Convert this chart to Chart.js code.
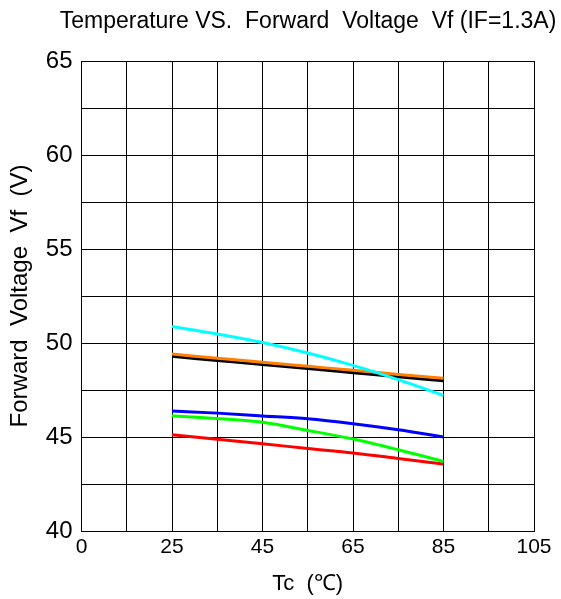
<!DOCTYPE html>
<html>
<head>
<meta charset="utf-8">
<script src="https://cdn.jsdelivr.net/npm/chart.js@4.4.1/dist/chart.umd.min.js"></script>
<style>
  html, body { margin: 0; padding: 0; background: #fff; }
  #wrap { width: 561px; height: 599px; }
</style>
</head>
<body>
<div id="wrap"><canvas id="chart" width="561" height="599"></canvas></div>
<script>
const CHART_TITLE = "Temperature VS.  Forward  Voltage  Vf (IF=1.3A)";
const X_TITLE = "Tc  (\u2103)";
const Y_TITLE = "Forward  Voltage  Vf  (V)";

const tempC = [25, 35, 45, 55, 65, 75, 85];
const cyanVf = [50.88, 50.48, 50.03, 49.47, 48.81, 48.05, 47.21];
const orangeVf = [49.41, 49.19, 48.97, 48.76, 48.55, 48.33, 48.12];
const blackVf = [49.29, 49.07, 48.85, 48.64, 48.42, 48.2, 47.99];
const blueVf = [46.38, 46.27, 46.12, 45.97, 45.71, 45.39, 45.0];
const greenVf = [46.13, 45.98, 45.78, 45.35, 44.89, 44.32, 43.7];
const redVf = [45.12, 44.88, 44.64, 44.39, 44.15, 43.86, 43.56];

const xTickLabels = { 5: "0", 25: "25", 45: "45", 65: "65", 85: "85", 105: "105" };
const yTickLabels = { 40: "40", 45: "45", 50: "50", 55: "55", 60: "60", 65: "65" };

const FONT = "\"Liberation Sans\", Arial, sans-serif";

function series(values, color) {
  return {
    data: tempC.map((t, i) => ({ x: t, y: values[i] })),
    borderColor: color,
    backgroundColor: color,
    borderWidth: 3,
    pointRadius: 0,
    cubicInterpolationMode: "monotone",
    fill: false
  };
}

// title sits off-centre in the reference, so draw it by hand
const titlePlugin = {
  id: "topTitle",
  afterDraw(chart) {
    const ctx = chart.ctx;
    ctx.save();
    ctx.fillStyle = "#000";
    ctx.font = "23px " + FONT;
    ctx.textAlign = "center";
    ctx.textBaseline = "middle";
    ctx.fillText(CHART_TITLE, 308, 22);
    ctx.restore();
  }
};

new Chart(document.getElementById("chart"), {
  type: "line",
  data: {
    datasets: [
      series(cyanVf, "#00ffff"),
      series(orangeVf, "#ff8000"),
      series(blackVf, "#000000"),
      series(blueVf, "#0000ff"),
      series(greenVf, "#00ff00"),
      series(redVf, "#ff0000")
    ]
  },
  options: {
    responsive: false,
    animation: false,
    layout: { padding: { top: 61, left: 0, right: 27, bottom: 0 } },
    plugins: {
      legend: { display: false },
      tooltip: { enabled: false },
      title: { display: false }
    },
    scales: {
      x: {
        type: "linear",
        min: 5,
        max: 105,
        afterFit(scale) { scale.height = 68; },
        border: { color: "#000", width: 1 },
        grid: { color: "#000", lineWidth: 1, drawTicks: false },
        ticks: {
          stepSize: 10,
          autoSkip: false,
          maxRotation: 0,
          padding: 4,
          color: "#000",
          font: { family: FONT, size: 21 },
          callback: (value) => xTickLabels[value] || ""
        },
        title: {
          display: true,
          text: X_TITLE,
          color: "#000",
          font: { family: FONT, size: 22 },
          padding: { top: 0, bottom: 2 }
        }
      },
      y: {
        type: "linear",
        min: 40,
        max: 65,
        afterFit(scale) { scale.width = 81.5; },
        border: { color: "#000", width: 1 },
        grid: { color: "#000", lineWidth: 1, drawTicks: false },
        ticks: {
          stepSize: 2.5,
          autoSkip: false,
          padding: 9,
          color: "#000",
          font: { family: FONT, size: 24 },
          callback: (value) => yTickLabels[value] || ""
        },
        title: {
          display: true,
          text: Y_TITLE,
          color: "#000",
          font: { family: FONT, size: 24 },
          padding: { top: 6, bottom: 0 }
        }
      }
    }
  },
  plugins: [titlePlugin]
});
</script>
</body>
</html>
